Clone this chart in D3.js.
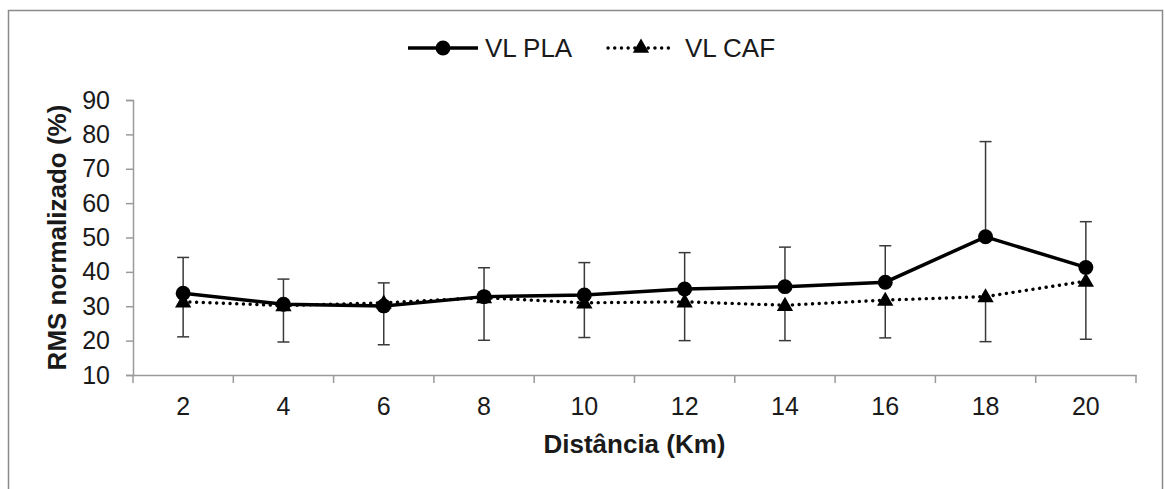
<!DOCTYPE html>
<html>
<head>
<meta charset="utf-8">
<script src="https://cdn.jsdelivr.net/npm/d3@7"></script>
<style>
	body { margin: 0; background: #fff; }
	text { font-family: Arial, "Liberation Sans", sans-serif; fill: #1a1a1a; }
</style>
</head>
<body>
<div id="plot"></div>
<script>
// values
var distancias = ["2", "4", "6", "8", "10", "12", "14", "16", "18", "20"]
var plaMedia = [33.8, 30.6, 30.1, 32.8, 33.3, 35.0, 35.7, 37.0, 50.2, 41.3]
var plaDP = [10.4, 7.3, 6.7, 8.4, 9.4, 10.6, 11.5, 10.6, 27.7, 13.3]   // drawn upward only
var cafMedia = [31.3, 30.2, 31.0, 32.5, 31.0, 31.3, 30.3, 31.8, 32.8, 37.3]
var cafDP = [10.2, 10.6, 12.2, 12.4, 10.1, 11.3, 10.3, 11.0, 13.1, 16.9]  // drawn downward only
var yTicks = [10, 20, 30, 40, 50, 60, 70, 80, 90]
var series = ["VL PLA", "VL CAF"]

var W = 1165, H = 489
var margin = {top: 100, right: 29, bottom: 114, left: 133}

var svg = d3.select("#plot").append("svg")
	.attr("width", W)
	.attr("height", H)

// outer frame
svg.append("rect")
	.attr("x", 8.5).attr("y", 10.5)
	.attr("width", 1154).attr("height", 500)
	.attr("fill", "none")
	.attr("stroke", "#8a8a8a")
	.attr("stroke-width", 1.5)

var x = d3.scaleBand()
	.domain(distancias)
	.range([margin.left, W - margin.right])

var y = d3.scaleLinear()
	.domain([10, 90])
	.range([H - margin.bottom, margin.top])

var axisColor = "#9a9a9a"

// y axis
var gy = svg.append("g")
	.attr("transform", "translate(" + margin.left + ",0)")
	.call(d3.axisLeft(y).tickValues(yTicks).tickSize(7).tickPadding(16))
gy.select(".domain").attr("stroke", axisColor).attr("stroke-width", 1.5)
gy.selectAll(".tick line").attr("stroke", axisColor).attr("stroke-width", 1.5)
gy.selectAll(".tick text").style("font-size", "25px").attr("fill", "#1a1a1a")

// x axis
var gx = svg.append("g")
	.attr("transform", "translate(0," + y(10) + ")")
	.call(d3.axisBottom(x).tickSize(0).tickPadding(22))
gx.select(".domain").attr("stroke", axisColor).attr("stroke-width", 1.5)
gx.selectAll(".tick text").style("font-size", "25px").attr("fill", "#1a1a1a")
// category boundary ticks
var bounds = distancias.map(function(d){ return x(d) }).concat([x.range()[1]])
gx.selectAll(".bound")
	.data(bounds)
	.enter().append("line")
	.attr("x1", function(d){ return d }).attr("x2", function(d){ return d })
	.attr("y1", 0).attr("y2", 8)
	.attr("stroke", axisColor)
	.attr("stroke-width", 1.5)

// axis titles
svg.append("text")
	.attr("x", x.range()[0] + (x.range()[1] - x.range()[0]) / 2)
	.attr("y", 453)
	.attr("text-anchor", "middle")
	.style("font-size", "26px")
	.style("font-weight", "bold")
	.text("Distância (Km)")

svg.append("text")
	.attr("transform", "translate(66," + (y(50)) + ") rotate(-90)")
	.attr("text-anchor", "middle")
	.style("font-size", "26px")
	.style("font-weight", "bold")
	.text("RMS normalizado (%)")

var cx = function(i){ return x(distancias[i]) + x.bandwidth() / 2 }
var capW = 6

// error bars: PLA up, CAF down
var gErr = svg.append("g").attr("stroke", "#3a3a3a").attr("stroke-width", 1.5)
distancias.forEach(function(d, i){
	var px = cx(i)
	var top = y(plaMedia[i] + plaDP[i])
	gErr.append("line").attr("x1", px).attr("x2", px).attr("y1", y(plaMedia[i])).attr("y2", top)
	gErr.append("line").attr("x1", px - capW).attr("x2", px + capW).attr("y1", top).attr("y2", top)
	var bot = y(cafMedia[i] - cafDP[i])
	gErr.append("line").attr("x1", px).attr("x2", px).attr("y1", y(cafMedia[i])).attr("y2", bot)
	gErr.append("line").attr("x1", px - capW).attr("x2", px + capW).attr("y1", bot).attr("y2", bot)
})

var line = d3.line()
	.x(function(d, i){ return cx(i) })
	.y(function(d){ return y(d) })

var dotted = {dash: "0.1,6.6", width: 3.4}

// CAF dotted line
svg.append("path")
	.datum(cafMedia)
	.attr("d", line)
	.attr("fill", "none")
	.attr("stroke", "#000")
	.attr("stroke-width", dotted.width)
	.attr("stroke-linecap", "round")
	.attr("stroke-dasharray", dotted.dash)

// PLA solid line
svg.append("path")
	.datum(plaMedia)
	.attr("d", line)
	.attr("fill", "none")
	.attr("stroke", "#000")
	.attr("stroke-width", 3.5)

var tri = d3.symbol().type(d3.symbolTriangle).size(115)
var circ = d3.symbol().type(d3.symbolCircle).size(175)

svg.append("g").selectAll("path")
	.data(cafMedia)
	.enter().append("path")
	.attr("d", tri)
	.attr("transform", function(d, i){ return "translate(" + cx(i) + "," + (y(d) + 1) + ")" })
	.attr("fill", "#000")

svg.append("g").selectAll("path")
	.data(plaMedia)
	.enter().append("path")
	.attr("d", circ)
	.attr("transform", function(d, i){ return "translate(" + cx(i) + "," + y(d) + ")" })
	.attr("fill", "#000")

// legend
var lg = svg.append("g").attr("transform", "translate(0,48)")
lg.append("line").attr("x1", 408).attr("x2", 478).attr("y1", 0).attr("y2", 0)
	.attr("stroke", "#000").attr("stroke-width", 3.5)
lg.append("path").attr("d", circ).attr("transform", "translate(443,0)")
lg.append("text").attr("x", 485).attr("y", 9).style("font-size", "26px").text(series[0])

lg.append("line").attr("x1", 608).attr("x2", 672).attr("y1", 0).attr("y2", 0)
	.attr("stroke", "#000").attr("stroke-width", dotted.width)
	.attr("stroke-linecap", "round").attr("stroke-dasharray", dotted.dash)
lg.append("path").attr("d", tri).attr("transform", "translate(641,0)")
lg.append("text").attr("x", 685).attr("y", 9).style("font-size", "26px").text(series[1])
</script>
</body>
</html>
